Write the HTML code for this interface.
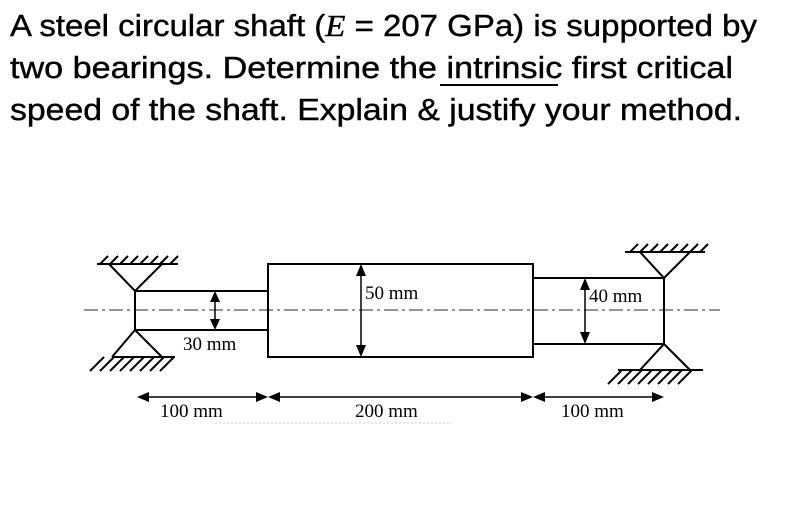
<!DOCTYPE html>
<html><head><meta charset="utf-8"><style>
html,body{margin:0;padding:0;background:#fff;width:800px;height:527px;overflow:hidden}
</style></head><body>
<svg width="800" height="527" viewBox="0 0 800 527" xmlns="http://www.w3.org/2000/svg">
<g font-family="Liberation Sans, sans-serif" font-size="31" fill="#000" stroke="#000" stroke-width="0.4">
<text x="10" y="36" textLength="747" lengthAdjust="spacingAndGlyphs">A steel circular shaft (<tspan font-family="Liberation Serif, serif" font-style="italic">E</tspan> = 207 GPa) is supported by</text>
<text x="10" y="78" textLength="723" lengthAdjust="spacingAndGlyphs">two bearings. Determine the intrinsic first critical</text>
<text x="10" y="120" textLength="732" lengthAdjust="spacingAndGlyphs">speed of the shaft. Explain &amp; justify your method.</text>
</g>
<line x1="440" y1="85" x2="558" y2="85" stroke="#000" stroke-width="2"/>

<line x1="84" y1="310" x2="720" y2="310" stroke="#555" stroke-width="1.3" stroke-dasharray="14,4,3,4"/>

<g stroke="#000" stroke-width="2" fill="none">
<rect x="135" y="291" width="133" height="39"/>
<rect x="268" y="264" width="265" height="93"/>
<rect x="533" y="278" width="131" height="66"/>

<line x1="97" y1="264" x2="178" y2="264"/>
<polyline points="109,264 135,291 162,264"/>
<path d="M100,264 l8,-8 M110,264 l8,-8 M120,264 l8,-8 M130,264 l8,-8 M140,264 l8,-8 M150,264 l8,-8 M160,264 l8,-8 M170,264 l8,-8"/>
<line x1="112" y1="357" x2="175" y2="357"/>
<polyline points="112,357 135,330 162,357"/>
<path d="M90,371 l14,-14 M100,371 l14,-14 M110,371 l14,-14 M120,371 l14,-14 M130,371 l14,-14 M140,371 l14,-14 M150,371 l14,-14 M160,371 l14,-14"/>

<line x1="625" y1="252" x2="705" y2="252"/>
<polyline points="640,252 664,278 690,252"/>
<path d="M630,252 l8,-8 M640,252 l8,-8 M650,252 l8,-8 M660,252 l8,-8 M670,252 l8,-8 M680,252 l8,-8 M690,252 l8,-8 M700,252 l8,-8"/>
<line x1="618" y1="370" x2="703" y2="370"/>
<polyline points="640,370 664,344 690,370"/>
<path d="M608,384 l14,-14 M618,384 l14,-14 M628,384 l14,-14 M638,384 l14,-14 M648,384 l14,-14 M658,384 l14,-14 M668,384 l14,-14 M678,384 l14,-14"/>
</g>

<g stroke="#000" stroke-width="1.5">
<line x1="215" y1="296" x2="215" y2="325"/>
<line x1="361" y1="269" x2="361" y2="352"/>
<line x1="585" y1="283" x2="585" y2="339"/>
<line x1="142" y1="397" x2="262" y2="397"/>
<line x1="274" y1="397" x2="527" y2="397"/>
<line x1="539" y1="397" x2="658" y2="397"/>
</g>
<g fill="#000">
<polygon points="215,291 210,302 220,302"/><polygon points="215,330 210,319 220,319"/>
<polygon points="361,264 356,276 366,276"/><polygon points="361,357 356,345 366,345"/>
<polygon points="585,278 580,290 590,290"/><polygon points="585,344 580,332 590,332"/>
<polygon points="137,397 149,392 149,402"/><polygon points="268,397 256,392 256,402"/>
<polygon points="268,397 280,392 280,402"/><polygon points="533,397 521,392 521,402"/>
<polygon points="533,397 545,392 545,402"/><polygon points="664,397 652,392 652,402"/>
</g>
<line x1="215" y1="423" x2="452" y2="423" stroke="#ccc" stroke-width="1" stroke-dasharray="2,2"/>

<g font-family="Liberation Serif, serif" font-size="19" fill="#000">
<text x="183" y="350">30 mm</text>
<text x="365" y="299">50 mm</text>
<text x="589" y="302">40 mm</text>
<text x="160" y="417">100 mm</text>
<text x="355" y="417">200 mm</text>
<text x="561" y="417">100 mm</text>
</g>
</svg>
</body></html>
